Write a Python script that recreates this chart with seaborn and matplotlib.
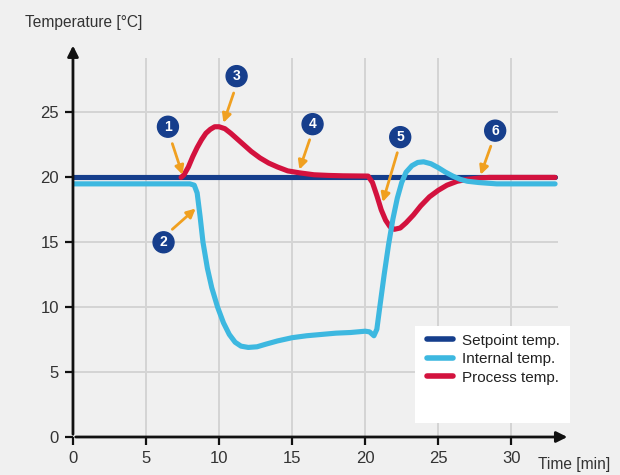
import matplotlib
matplotlib.use("Agg")
import matplotlib.pyplot as plt
import seaborn as sns
import pandas as pd
from matplotlib.lines import Line2D
from matplotlib.patches import Rectangle

setpoint_t = [0, 33]
setpoint_v = [20, 20]

internal_t = [0, 8.0, 8.3, 8.5, 8.7, 8.9, 9.2, 9.5, 9.9, 10.3, 10.7, 11.1, 11.5, 12.0, 12.6,
              13.2, 14.0, 15.0, 16.0, 17.0, 18.0, 19.0, 20.0, 20.3, 20.6, 20.8, 21.0, 21.3,
              21.6, 21.9, 22.2, 22.5, 22.8, 23.2, 23.6, 24.0, 24.5, 25.0, 25.5, 26.0, 26.5,
              27.0, 27.8, 29, 33]
internal_v = [19.5, 19.5, 19.4, 18.8, 17.0, 15.0, 13.0, 11.5, 10.0, 8.8, 7.9, 7.3, 7.0, 6.9, 6.95,
              7.15, 7.4, 7.65, 7.8, 7.9, 8.0, 8.05, 8.15, 8.1, 7.8, 8.3, 10.0, 12.5,
              14.8, 16.8, 18.4, 19.6, 20.4, 20.9, 21.15, 21.2, 21.05, 20.75, 20.4, 20.1, 19.85,
              19.7, 19.6, 19.5, 19.5]

process_t = [7.4, 7.6, 7.9, 8.2, 8.5, 8.8, 9.1, 9.4, 9.7, 10.0, 10.4, 10.8, 11.2, 11.7,
             12.2, 12.8, 13.4, 14.0, 14.7, 15.5, 16.5, 17.5, 18.5, 20.2, 20.5, 20.8, 21.1,
             21.4, 21.7, 22.0, 22.4, 22.8, 23.3, 23.8, 24.4, 25.0, 25.6, 26.3, 27.0, 27.8,
             28.5, 33]
process_v = [20, 20.2, 20.8, 21.6, 22.3, 22.9, 23.4, 23.7, 23.9, 23.9, 23.75, 23.4, 23.0, 22.5,
             22.0, 21.5, 21.1, 20.8, 20.5, 20.35, 20.2, 20.15, 20.12, 20.1, 19.6, 18.6, 17.5,
             16.7, 16.2, 16.0, 16.1, 16.5, 17.1, 17.8, 18.5, 19.0, 19.4, 19.7, 19.85, 19.95,
             20.0, 20.0]

series_names = ["Setpoint temp.", "Internal temp.", "Process temp."]
colors = ["#153e8c", "#3db8e0", "#d3123e"]

# annotation markers
ann_labels = ["1", "2", "3", "4", "5", "6"]
ann_circle = [(6.5, 23.9), (6.2, 15.0), (11.2, 27.8), (16.4, 24.1), (22.4, 23.1), (28.9, 23.6)]
ann_tail = [(6.8, 22.6), (6.8, 16.0), (11.0, 26.5), (16.2, 22.9), (22.2, 21.9), (28.6, 22.4)]
ann_head = [(7.5, 20.2), (8.4, 17.6), (10.3, 24.2), (15.5, 20.6), (21.2, 18.1), (27.9, 20.2)]

x_ticks = [0, 5, 10, 15, 20, 25, 30]
y_ticks = [0, 5, 10, 15, 20, 25]

df = pd.concat([
    pd.DataFrame({"t": setpoint_t, "v": setpoint_v, "s": series_names[0]}),
    pd.DataFrame({"t": process_t, "v": process_v, "s": series_names[2]}),
    pd.DataFrame({"t": internal_t, "v": internal_v, "s": series_names[1]}),
], ignore_index=True)

sns.set_theme(style="white")
narrow = ["Liberation Sans Narrow", "Liberation Sans", "DejaVu Sans"]
plt.rcParams["font.family"] = ["Liberation Sans", "DejaVu Sans"]

fig = plt.figure(figsize=(6.2, 4.75), dpi=100)
fig.patch.set_facecolor("#f0f0f0")
ax = fig.add_axes([0.1177, 0.08, 0.7823, 0.798])
ax.set_facecolor("#f0f0f0")

pal = dict(zip(series_names, colors))
for name in [series_names[0], series_names[2], series_names[1]]:
    sub = df[df["s"] == name]
    sns.lineplot(data=sub, x="t", y="v", color=pal[name], ax=ax, linewidth=3.7,
                 legend=False, sort=False, estimator=None)
for ln in ax.get_lines():
    ln.set_solid_joinstyle("round")
    ln.set_solid_capstyle("round")

ax.set_xlim(0, 33.2)
ax.set_ylim(0, 29.2)
ax.set_xticks(x_ticks)
ax.set_yticks(y_ticks)
ax.grid(True, color="#d4d4d4", linewidth=1.4)
ax.set_axisbelow(True)
for s in ax.spines.values():
    s.set_visible(False)
ax.tick_params(axis="both", which="both", length=6, width=1.6, color="#111111",
               labelsize=12, labelcolor="#333333", pad=4, direction="out",
               bottom=True, left=True)
ax.set_xlabel("")
ax.set_ylabel("")

# axis lines with arrows
ax.annotate("", xy=(1.025, 0), xytext=(0, 0), xycoords="axes fraction",
            arrowprops=dict(arrowstyle="-|>", color="#111111", lw=2, mutation_scale=16),
            annotation_clip=False)
ax.annotate("", xy=(0, 1.04), xytext=(0, 0), xycoords="axes fraction",
            arrowprops=dict(arrowstyle="-|>", color="#111111", lw=2, mutation_scale=16),
            annotation_clip=False)

fig.text(25 / 620, 1 - 22 / 475, "Temperature [°C]", fontsize=11.2, color="#333333",
         family=narrow, va="center", ha="left")
fig.text(538 / 620, 1 - 464 / 475, "Time [min]", fontsize=11.2, color="#333333",
         family=narrow, va="center", ha="left")

for lab, c, tl, hd in zip(ann_labels, ann_circle, ann_tail, ann_head):
    ax.annotate("", xy=hd, xytext=tl,
                arrowprops=dict(arrowstyle="-|>", color="#f0a020", lw=2, mutation_scale=13,
                                shrinkA=0, shrinkB=0), annotation_clip=False)
    ax.text(c[0], c[1], lab, ha="center", va="center", fontsize=10, fontweight="bold",
            color="white", bbox=dict(boxstyle="circle,pad=0.25", fc="#163e8c", ec="#163e8c"))

# legend box
ax.add_patch(Rectangle((0.705, 0.037), 0.32, 0.256, transform=ax.transAxes,
                       facecolor="white", edgecolor="none", clip_on=False, zorder=4))
handles = [Line2D([0], [0], color=c, lw=4, solid_capstyle="round") for c in colors]
leg = ax.legend(handles, series_names, loc="upper left", bbox_to_anchor=(0.72, 0.285),
                frameon=False, prop={"family": narrow, "size": 11},
                handlelength=1.7, handletextpad=0.6, labelspacing=0.3,
                borderpad=0.3, borderaxespad=0)
leg.set_zorder(5)
for t in leg.get_texts():
    t.set_color("#222222")

fig.savefig("out.png", dpi=100, facecolor=fig.get_facecolor())
